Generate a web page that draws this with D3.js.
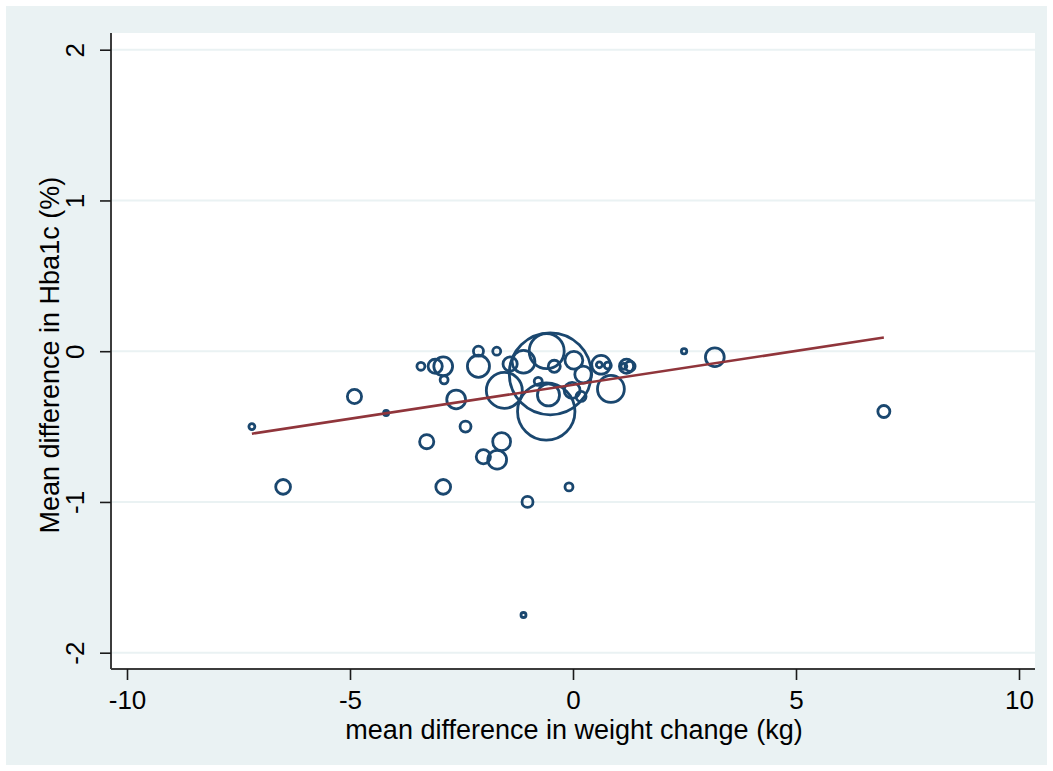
<!DOCTYPE html>
<html>
<head>
<meta charset="utf-8">
<script src="https://cdn.jsdelivr.net/npm/d3@7"></script>
<style>
  html, body { margin: 0; padding: 0; background: #ffffff; }
  svg { display: block; }
  text { font-family: "Liberation Sans", Arial, sans-serif; fill: #000; }
</style>
</head>
<body>
<svg id="chart" width="1053" height="771"></svg>
<script>
// Study-level differences: weight change (kg) vs HbA1c (%), circle area ~ study weight
const weightDiff = [
  -7.20, -6.50, -4.90, -4.19, -3.41, -3.28, -3.09, -2.91, -2.89, -2.91,
  -2.62, -2.41, -2.12, -2.12, -2.01, -1.71, -1.70, -1.60, -1.54, -1.41,
  -1.11, -1.11, -1.02, -0.78, -0.59, -0.42, -0.51, -0.60, -0.55, 0.02,
   0.23, -0.02, 0.18, 0.63, 0.59, 0.78, 0.85, 1.20, 1.28, 1.14,
   2.49, 3.18, 6.97, -0.09
];
const hba1cDiff = [
  -0.50, -0.90, -0.30, -0.41, -0.10, -0.60, -0.10, -0.10, -0.19, -0.90,
  -0.32, -0.50, 0.00, -0.10, -0.70, 0.00, -0.72, -0.60, -0.26, -0.085,
  -0.07, -1.75, -1.00, -0.20, 0.00, -0.10, -0.15, -0.40, -0.29, -0.06,
  -0.155, -0.26, -0.30, -0.09, -0.09, -0.095, -0.25, -0.10, -0.10, -0.10,
   0.00, -0.04, -0.40, -0.90
];
const studyWeight = [
  2.1, 13, 12, 1.5, 3.8, 12, 12, 21, 3.8, 13,
  21, 7.2, 6, 29, 12, 3.8, 21, 19, 77, 12,
  31, 1.5, 7.2, 3.8, 73, 8.6, 400, 196, 29, 19,
  17, 15, 6, 21, 2.1, 2.9, 43, 12, 6, 2.1,
  1.7, 21, 8.6, 3.8
];

// Weighted fit line read as intercept and slope
const fitIntercept = -0.223;
const fitSlope = 0.045;

const xTicks = [-10, -5, 0, 5, 10];
const yTicks = [-2, -1, 0, 1, 2];
const xTitle = "mean difference in weight change (kg)";
const yTitle = "Mean difference in Hba1c (%)";

const svg = d3.select("#chart");
const W = 1053, H = 771;
const plot = { left: 111, right: 1035, top: 33, bottom: 669 };

const x = d3.scaleLinear().domain([-10, 10]).range([127, 1019]);
const y = d3.scaleLinear().domain([-2, 2]).range([652.7, 49.7]);
const r = d3.scaleSqrt().domain([0, 400]).range([0, 41]);

// Graph region background
svg.append("rect").attr("x", 6).attr("y", 6)
  .attr("width", W - 12).attr("height", H - 12)
  .attr("fill", "#eaf2f3");

// Plot region
svg.append("rect").attr("x", plot.left).attr("y", plot.top)
  .attr("width", plot.right - plot.left).attr("height", plot.bottom - plot.top)
  .attr("fill", "#ffffff");

// Horizontal gridlines
svg.append("g").selectAll("line").data(yTicks).join("line")
  .attr("x1", plot.left).attr("x2", plot.right)
  .attr("y1", d => y(d)).attr("y2", d => y(d))
  .attr("stroke", "#eaf2f3").attr("stroke-width", 2);

const fmt = d => d3.format("d")(d).replace("\u2212", "-");

// Y axis
const yAxis = svg.append("g")
  .attr("transform", `translate(${plot.left},0)`)
  .call(d3.axisLeft(y).tickValues(yTicks).tickSize(11).tickFormat(fmt));
yAxis.select(".domain").attr("d", `M0,${plot.top}V${plot.bottom}`)
  .attr("stroke", "#3c3c3c").attr("stroke-width", 2);
yAxis.selectAll(".tick line").attr("stroke", "#1a1a1a").attr("stroke-width", 1.6);
yAxis.selectAll(".tick text")
  .attr("x", 0).attr("y", 0).attr("dy", null)
  .attr("text-anchor", "middle")
  .attr("transform", "translate(-27,0) rotate(-90)")
  .attr("font-size", 26).attr("fill", "#000")
  .style("font-family", '"Liberation Sans", Arial, sans-serif');

// X axis
const xAxis = svg.append("g")
  .attr("transform", `translate(0,${plot.bottom})`)
  .call(d3.axisBottom(x).tickValues(xTicks).tickSize(11).tickFormat(fmt));
xAxis.select(".domain").attr("d", `M${plot.left},0H${plot.right}`)
  .attr("stroke", "#3c3c3c").attr("stroke-width", 2);
xAxis.selectAll(".tick line").attr("stroke", "#1a1a1a").attr("stroke-width", 1.6);
xAxis.selectAll(".tick text")
  .attr("y", 40).attr("dy", null)
  .attr("font-size", 26).attr("fill", "#000")
  .style("font-family", '"Liberation Sans", Arial, sans-serif');

// Axis titles
svg.append("text")
  .attr("x", 574).attr("y", 739)
  .attr("text-anchor", "middle").attr("font-size", 27)
  .text(xTitle);
svg.append("text")
  .attr("transform", `translate(59,${y(0) + 4}) rotate(-90)`)
  .attr("text-anchor", "middle").attr("font-size", 27)
  .text(yTitle);

// Data
const studies = weightDiff.map((wd, i) => ({ x: wd, y: hba1cDiff[i], w: studyWeight[i] }));

svg.append("g").selectAll("circle").data(studies).join("circle")
  .attr("cx", d => x(d.x)).attr("cy", d => y(d.y)).attr("r", d => r(d.w))
  .attr("fill", "none").attr("stroke", "#1a476f").attr("stroke-width", 2.8);

// Fitted line over the observed range
const xr = d3.extent(weightDiff);
svg.append("line")
  .attr("x1", x(xr[0])).attr("y1", y(fitIntercept + fitSlope * xr[0]))
  .attr("x2", x(xr[1])).attr("y2", y(fitIntercept + fitSlope * xr[1]))
  .attr("stroke", "#90353b").attr("stroke-width", 2.6);
</script>
</body>
</html>
